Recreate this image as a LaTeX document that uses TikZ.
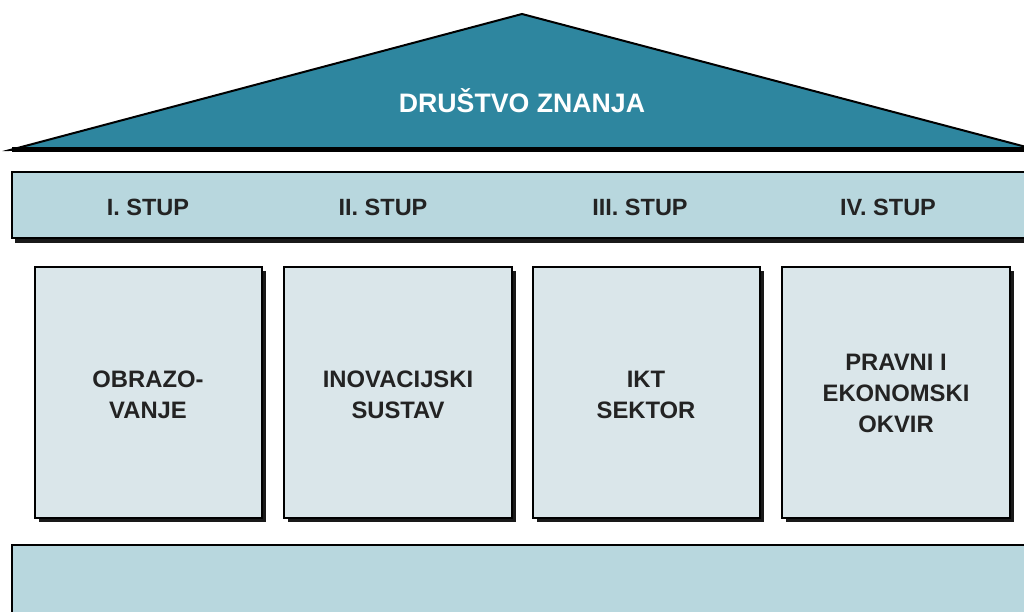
\documentclass[tikz,border=0pt]{standalone}
\usepackage{fontspec}
\setmainfont{Liberation Sans}
\usetikzlibrary{positioning}
\definecolor{roofteal}{RGB}{46, 134, 159}
\definecolor{beamblue}{RGB}{184, 215, 222}
\definecolor{pillarblue}{RGB}{218, 230, 234}
\definecolor{inkgray}{RGB}{35, 35, 35}

\begin{document}
\begin{tikzpicture}[x=1pt,y=-1pt,
          roof/.style={fill=roofteal,draw=black,line width=2pt,line join=miter},
          slab/.style={fill=beamblue,draw=black,line width=1.5pt},
          pillar/.style={fill=pillarblue,draw=black,line width=2pt},
          shade/.style={fill=black!90},
          title/.style={white,font=\bfseries\fontsize{26.7}{30}\selectfont},
          stup/.style={inkgray,font=\bfseries\fontsize{23.5}{27}\selectfont},
          ptext/.style={inkgray,align=center,
                        font=\bfseries\fontsize{23.8}{31}\selectfont}]
        \useasboundingbox (0,0) rectangle (1024,612);
        % roof
        \draw[roof] (10,150) -- (522,14) -- (1030,148) -- cycle;
        \draw[black,line width=5pt] (12,150) -- (1030,150);
        \node[title](roofname) at (522,101){DRUŠTVO ZNANJA};
        % beam with the four pillar names
        \fill[shade] (15,176) rectangle (1034,243);
        \draw[slab] (12,172) rectangle (1034,238);
        \node[stup](s1) at (148,207){I. STUP};
        \node[stup](s2) at (383,207){II. STUP};
        \node[stup](s3) at (640,207){III. STUP};
        \node[stup](s4) at (888,207){IV. STUP};
        % pillars
        \fill[shade] (39,271) rectangle (266,522);
        \draw[pillar] (35,267) rectangle (262,518);
        \fill[shade] (288,271) rectangle (516,522);
        \draw[pillar] (284,267) rectangle (512,518);
        \fill[shade] (537,271) rectangle (764,522);
        \draw[pillar] (533,267) rectangle (760,518);
        \fill[shade] (786,271) rectangle (1014,522);
        \draw[pillar] (782,267) rectangle (1010,518);
        \node[ptext](p1) at (148,395){OBRAZO-\\VANJE};
        \node[ptext](p2) at (398,395){INOVACIJSKI\\SUSTAV};
        \node[ptext](p3) at (646,395){IKT\\SEKTOR};
        \node[ptext](p4) at (896,393){PRAVNI I\\EKONOMSKI\\OKVIR};
        % foundation
        \draw[slab] (12,545) rectangle (1034,620);
      \end{tikzpicture}
\end{document}
